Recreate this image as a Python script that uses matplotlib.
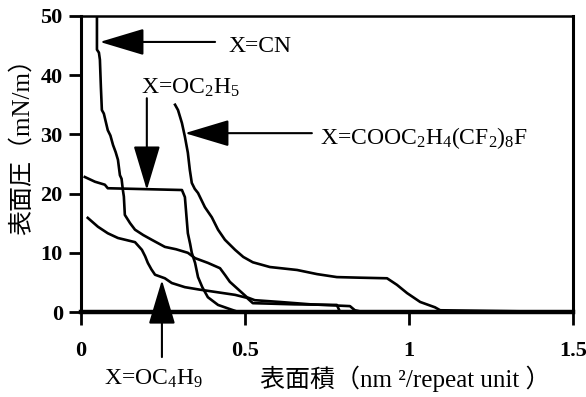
import matplotlib
matplotlib.use("Agg")
import matplotlib.pyplot as plt

plt.rcParams["font.family"] = ["Liberation Serif", "Noto Sans CJK JP"]
plt.rcParams["mathtext.fontset"] = "custom"
plt.rcParams["mathtext.rm"] = "Liberation Serif"
plt.rcParams["mathtext.it"] = "Liberation Serif"

# X=CN
cn_x = [0.049, 0.049, 0.055, 0.058, 0.061, 0.064, 0.070, 0.082, 0.090, 0.098,
        0.106, 0.113, 0.119, 0.124, 0.128, 0.131, 0.134, 0.150, 0.165, 0.190,
        0.216, 0.256, 0.290, 0.326, 0.348, 0.387, 0.424, 0.440, 0.454, 0.480,
        0.506, 0.530, 0.607, 0.700, 0.820, 0.835, 0.86]
cn_y = [50.0, 44.3, 43.8, 42.6, 38.0, 34.1, 33.5, 30.7, 29.8, 28.2,
        27.0, 25.7, 23.1, 22.5, 20.6, 19.5, 16.4, 15.0, 13.9, 13.0,
        12.2, 11.0, 10.6, 10.0, 9.1, 8.3, 7.4, 6.2, 5.1, 3.8,
        2.5, 2.0, 1.7, 1.3, 1.0, 0.3, 0.0]

# X=OC2H5
et_x = [0.012, 0.043, 0.073, 0.082, 0.308, 0.317, 0.322, 0.326, 0.333, 0.338,
        0.348, 0.357, 0.370, 0.387, 0.418, 0.454, 0.48]
et_y = [22.8, 22.0, 21.5, 20.9, 20.6, 19.4, 16.0, 13.3, 11.5, 10.0,
        8.3, 5.9, 4.2, 2.5, 1.2, 0.5, 0.0]

# X=OC4H9
bu_x = [0.021, 0.052, 0.082, 0.113, 0.165, 0.186, 0.196, 0.204, 0.215, 0.226,
        0.256, 0.277, 0.317, 0.360, 0.409, 0.470, 0.506, 0.524, 0.650, 0.780,
        0.79]
bu_y = [15.9, 14.4, 13.3, 12.5, 11.8, 10.5, 9.4, 8.3, 7.2, 6.3,
        5.7, 4.9, 4.2, 3.8, 3.4, 2.9, 2.4, 1.5, 1.3, 1.2,
        0.0]

# X=COOC2H4(CF2)8F
cf_x = [0.287, 0.296, 0.302, 0.308, 0.317, 0.326, 0.332, 0.338, 0.347, 0.357,
        0.378, 0.399, 0.418, 0.439, 0.470, 0.495, 0.524, 0.576, 0.659, 0.720,
        0.780, 0.850, 0.933, 0.963, 0.994, 1.034, 1.079, 1.095, 1.5]
cf_y = [35.0, 34.1, 33.0, 31.9, 29.6, 26.9, 24.0, 21.8, 20.8, 20.1,
        17.7, 16.0, 13.9, 12.2, 10.5, 9.3, 8.4, 7.6, 7.1, 6.4,
        5.9, 5.8, 5.7, 4.6, 3.2, 1.7, 0.8, 0.3, 0.0]

x_ticks = [0, 0.5, 1, 1.5]
x_tick_labels = ["0", "0.5", "1", "1.5"]
y_ticks = [0, 10, 20, 30, 40, 50]

fig = plt.figure(figsize=(5.86, 3.97), dpi=100)
ax = fig.add_axes([0.138, 0.214, 0.840, 0.746])

for xs, ys in [(cn_x, cn_y), (et_x, et_y), (bu_x, bu_y), (cf_x, cf_y)]:
    ax.plot(xs, ys, color="black", lw=1.9)

ax.set_xlim(0, 1.5)
ax.set_ylim(0, 50)
ax.set_xticks(x_ticks)
ax.set_xticklabels(x_tick_labels)
ax.set_yticks(y_ticks)
ax.tick_params(axis="x", direction="out", length=9, width=2, pad=12, labelsize=16)
ax.tick_params(axis="y", direction="out", length=9, width=2, pad=4, labelsize=16)
for lab in ax.get_yticklabels() + ax.get_xticklabels():
    lab.set_fontweight("bold")

ax.spines["bottom"].set_linewidth(3.2)
ax.spines["left"].set_linewidth(2.2)
ax.spines["right"].set_linewidth(2.2)
ax.spines["top"].set_linewidth(1.8)

head = dict(arrowstyle="-|>,head_length=2.0,head_width=0.6", mutation_scale=14,
            color="black", lw=1.5, shrinkA=0, shrinkB=0)

ax.annotate("", xy=(0.058, 45.6), xytext=(0.409, 45.6), arrowprops=head)
ax.text(0.45, 44.8, "X=CN", fontsize=17, va="center", ha="left")

ax.annotate("", xy=(0.201, 20.6), xytext=(0.201, 36.1), arrowprops=head)
ax.text(0.333, 37.9, r"X=OC$_2$H$_5$", fontsize=17, va="center", ha="center")

ax.annotate("", xy=(0.317, 30.2), xytext=(0.704, 30.2), arrowprops=head)
ax.text(0.729, 29.3, r"X=COOC$_2$H$_4$(CF$_2$)$_8$F", fontsize=17,
        va="center", ha="left")

ax.annotate("", xy=(0.247, 5.4), xytext=(0.247, -7.6), arrowprops=head,
            annotation_clip=False)
ax.text(0.22, -11.2, r"X=OC$_4$H$_9$", fontsize=17, va="center", ha="center",
        clip_on=False)

ax.text(0.66, -0.225, "表面積（nm ²/repeat unit ）", transform=ax.transAxes,
        fontsize=18, ha="center", va="center")
ax.text(-0.12, 0.58, "表面圧（mN/m）", transform=ax.transAxes, rotation=90,
        fontsize=18, ha="center", va="center")

fig.savefig("out.png", dpi=100)
